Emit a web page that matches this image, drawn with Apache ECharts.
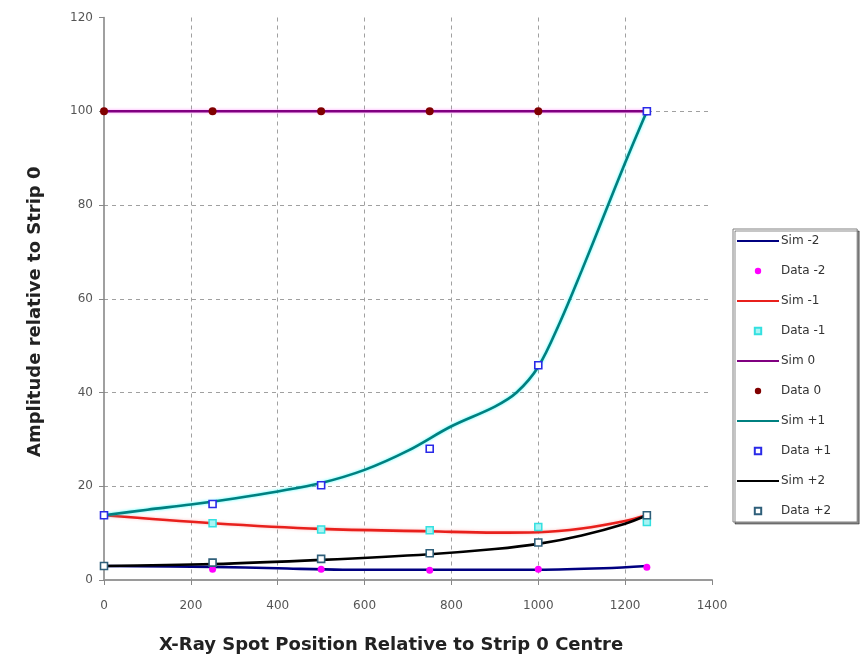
<!DOCTYPE html>
<html>
<head>
<meta charset="utf-8">
<script src="https://cdn.jsdelivr.net/npm/echarts@6/dist/echarts.min.js"></script>
<style>
  html, body { margin: 0; padding: 0; background: #ffffff; }
  #chart { width: 862px; height: 663px; }
</style>
</head>
<body>
<div id="chart"></div>
<script>
// Spot positions where data were taken
const dataX = [0, 250, 500, 750, 1000, 1250];

// Measured amplitudes (relative to strip 0)
const dataM2 = [null, 2.3, 2.3, 2.1, 2.3, 2.7];
const dataM1 = [null, 12.1, 10.8, 10.6, 11.3, 12.4];
const data0  = [100, 100, 100, 100, 100, 100];
const dataP1 = [13.8, 16.2, 20.2, 28.0, 45.8, 100];
const dataP2 = [3.0, 3.7, 4.5, 5.7, 8.0, 13.8];

// Simulated curves
const simM2X = [0, 250, 400, 550, 750, 1000, 1150, 1250];
const simM2  = [3.0, 2.8, 2.5, 2.2, 2.2, 2.2, 2.5, 3.0];
const simM1X = [0, 250, 500, 750, 900, 1000, 1100, 1200, 1250];
const simM1  = [13.8, 12.1, 10.9, 10.4, 10.1, 10.2, 11.0, 12.6, 13.8];
const sim0X  = [0, 1250];
const sim0   = [100, 100];
const simP1X = [0, 100, 200, 300, 400, 500, 600, 700, 800, 900, 950, 1000, 1050, 1100, 1150, 1200, 1250];
const simP1  = [13.8, 15.0, 16.1, 17.4, 18.9, 20.7, 23.5, 27.6, 32.8, 37.0, 40.0, 45.5, 55.0, 66.0, 77.5, 89.0, 100];
const simP2X = [0, 250, 500, 750, 900, 1000, 1100, 1200, 1250];
const simP2  = [3.0, 3.4, 4.3, 5.5, 6.6, 7.7, 9.5, 12.0, 13.8];

// Axis ranges
const xMin = 0, xMax = 1400, xStep = 200;
const yMin = 0, yMax = 120, yStep = 20;

const legendOrder = ['Sim -2', 'Data -2', 'Sim -1', 'Data -1', 'Sim 0', 'Data 0', 'Sim +1', 'Data +1', 'Sim +2', 'Data +2'];

const pairs = (xs, ys) => xs.map((x, i) => [x, ys[i]]).filter(p => p[1] !== null);
const FONT = 'DejaVu Sans';

function simSeries(name, xs, ys, color, glow) {
  return {
    name, type: 'line', data: pairs(xs, ys), smooth: 0.35, symbol: 'none',
    lineStyle: { color, width: 2.6, shadowColor: glow, shadowBlur: glow ? 3 : 0 },
    itemStyle: { color }, z: 2
  };
}
function dataSeries(name, ys, symbol, size, fill, border, bw) {
  return {
    name, type: 'line', data: pairs(dataX, ys), symbol, symbolSize: size,
    showAllSymbol: true,
    lineStyle: { opacity: 0, width: 0 },
    itemStyle: { color: fill, borderColor: border, borderWidth: bw }, z: 3
  };
}

// Legend entries: simulated curves show only their line
const legendData = legendOrder.map(n => n.startsWith('Sim')
  ? { name: n, itemStyle: { opacity: 0 } }
  : { name: n });

const splitColors = (count) => Array.from({ length: count }, (_, i) =>
  (i === 0 || i === count - 1) ? 'transparent' : '#a0a0a0');

const chart = echarts.init(document.getElementById('chart'), null, { renderer: 'canvas' });
chart.setOption({
  backgroundColor: '#ffffff',
  animation: false,
  grid: { left: 104, right: 150, top: 17.5, bottom: 83 },
  xAxis: {
    type: 'value', min: xMin, max: xMax, interval: xStep,
    name: 'X-Ray Spot Position Relative to Strip 0 Centre',
    nameLocation: 'middle', nameGap: 56,
    nameTextStyle: { fontFamily: FONT, fontWeight: 'bold', fontSize: 18, color: '#222', padding: [0, 34, 0, 0] },
    axisLine: { show: true, lineStyle: { color: '#9a9a9a', width: 2 } },
    axisTick: { show: true, inside: false, length: 5, lineStyle: { color: '#888' } },
    axisLabel: { fontFamily: FONT, fontSize: 12, color: '#555', margin: 20, formatter: v => String(v) },
    splitLine: { show: true, lineStyle: { color: splitColors(8), type: [4, 4], width: 1 } }
  },
  yAxis: {
    type: 'value', min: yMin, max: yMax, interval: yStep,
    name: 'Amplitude relative to Strip 0',
    nameLocation: 'middle', nameGap: 60,
    nameTextStyle: { fontFamily: FONT, fontWeight: 'bold', fontSize: 18, color: '#222', padding: [0, 26, 0, 0] },
    axisLine: { show: true, lineStyle: { color: '#808080', width: 1.5 } },
    axisTick: { show: true, inside: false, length: 5, lineStyle: { color: '#888' } },
    axisLabel: { fontFamily: FONT, fontSize: 12, color: '#555', margin: 11, formatter: v => String(v) },
    splitLine: { show: true, lineStyle: { color: splitColors(7), type: [4, 4], width: 1 } }
  },
  legend: {
    data: legendData,
    orient: 'vertical', left: 733, top: 229,
    backgroundColor: '#ffffff', borderColor: '#808080', borderWidth: 1,
    shadowColor: 'rgba(0,0,0,0.45)', shadowOffsetX: 2, shadowOffsetY: 2, shadowBlur: 0,
    padding: [6, 26, 5, 3],
    itemWidth: 42, itemHeight: 8, itemGap: 18,
    textStyle: { fontFamily: FONT, fontSize: 12, color: '#333', padding: [0, 0, 0, -3] }
  },
  series: [
    simSeries('Sim -2', simM2X, simM2, '#000080'),
    simSeries('Sim -1', simM1X, simM1, '#e8201c', 'rgba(255,120,120,0.5)'),
    simSeries('Sim 0', sim0X, sim0, '#800080', 'rgba(255,80,255,0.6)'),
    simSeries('Sim +1', simP1X, simP1, '#008080', 'rgba(0,255,255,0.7)'),
    simSeries('Sim +2', simP2X, simP2, '#000000'),
    dataSeries('Data -2', dataM2, 'circle', 7, '#ff00ff', '#ff00ff', 0),
    dataSeries('Data -1', dataM1, 'rect', 7, '#a8f4f4', '#33e0e0', 1.5),
    dataSeries('Data 0', data0, 'circle', 8, '#800000', '#800000', 0),
    dataSeries('Data +1', dataP1, 'rect', 7, '#ffffff', '#2a2ae8', 1.6),
    dataSeries('Data +2', dataP2, 'rect', 7, '#ffffff', '#2f5f7a', 1.6)
  ]
});
</script>
</body>
</html>
